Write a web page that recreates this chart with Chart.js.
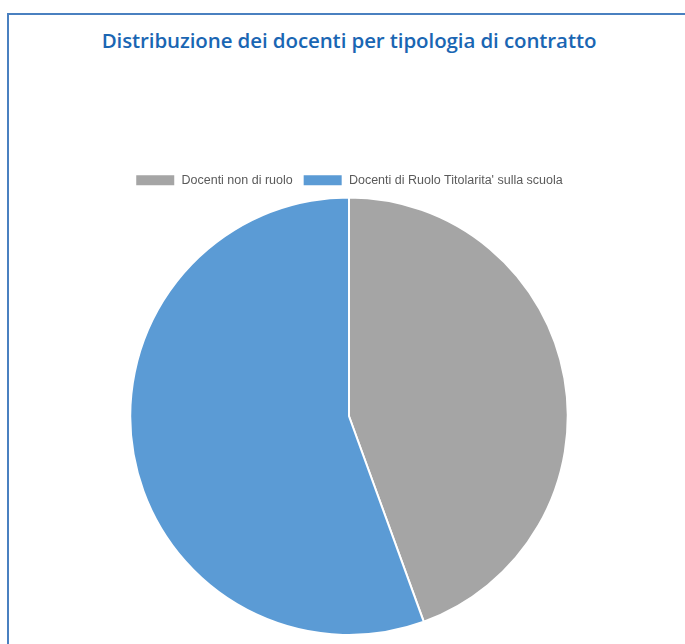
<!DOCTYPE html>
<html>
<head>
<meta charset="utf-8">
<script src="https://cdn.jsdelivr.net/npm/chart.js@4/dist/chart.umd.min.js"></script>
<style>
    body { margin: 0; background: #fff; width: 685px; height: 644px; overflow: hidden; position: relative; }
    .box { position: absolute; left: 7px; top: 13px; width: 700px; height: 700px; border-top: 2px solid #4a80c0; border-left: 2px solid #4a80c0; }
    .title { position: absolute; left: 0; top: 26px; width: 698px; text-align: center; font-family: "Open Sans", sans-serif; font-weight: 600; font-size: 20.5px; letter-spacing: -0.1px; color: #1a66b3; }
    .wrap { position: absolute; left: 99px; top: 164px; width: 500px; height: 472px; }
</style>
</head>
<body>
<div class="box"></div>
<div class="title">Distribuzione dei docenti per tipologia di contratto</div>
<div class="wrap"><canvas id="pieChart"></canvas></div>
<script>
const labels = ["Docenti non di ruolo", "Docenti di Ruolo Titolarita' sulla scuola"];
const values = [20, 25];
const colors = ["#a5a5a5", "#5b9bd5"];

const ctx = document.getElementById("pieChart").getContext("2d");
new Chart(ctx, {
    type: "pie",
    data: {
        labels,
        datasets: [{
            data: values,
            backgroundColor: colors,
            borderColor: "#fff",
            borderWidth: 2,
        }],
    },
    options: {
        responsive: true,
        maintainAspectRatio: false,
        animation: false,
        plugins: {
            legend: {
                position: "top",
                labels: { font: { family: "Liberation Sans", size: 12.5 }, color: "#5a5a5a", boxWidth: 40, boxHeight: 12 },
            },
            tooltip: { enabled: false },
        },
    },
});
</script>
</body>
</html>
